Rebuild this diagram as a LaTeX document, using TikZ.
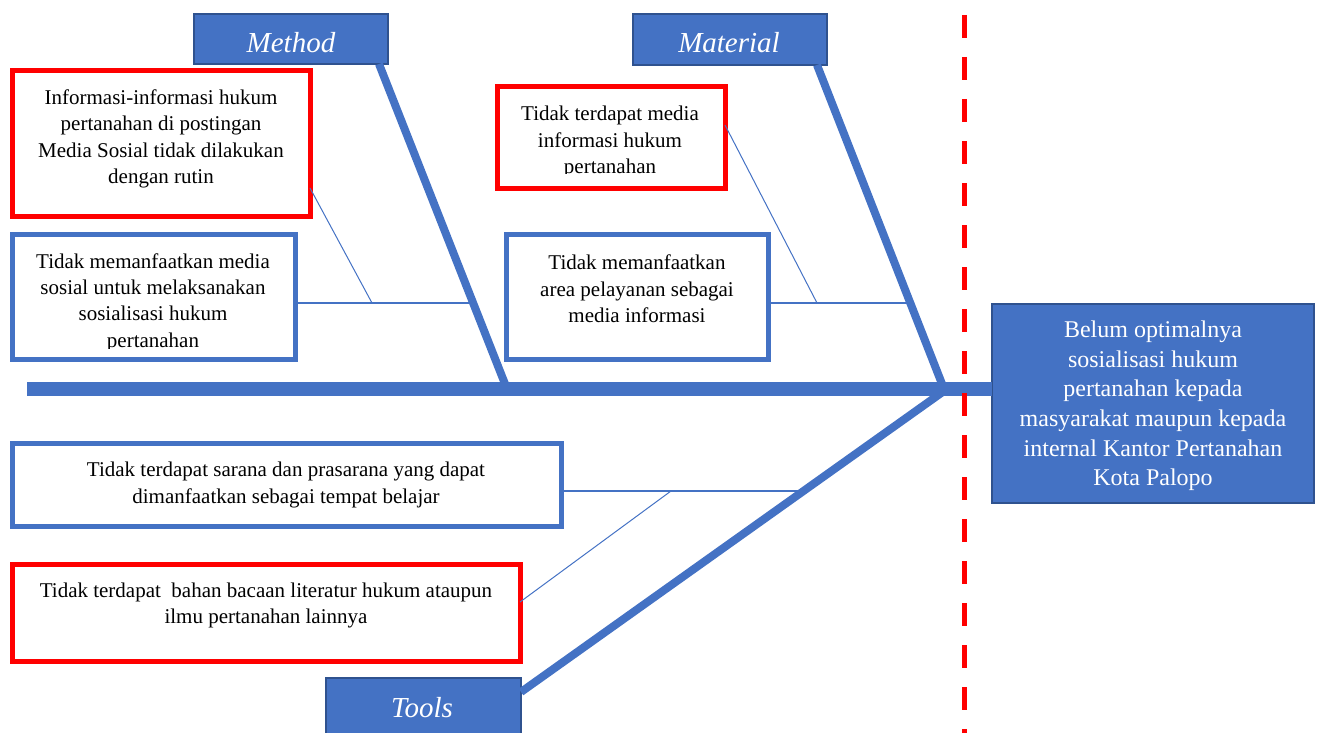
\documentclass[tikz,border=0pt]{standalone}
\usepackage{fontspec}
\setmainfont{Liberation Serif}
\definecolor{fbblue}{HTML}{4472C4}
\definecolor{fbdark}{HTML}{2F528F}
\definecolor{fbred}{HTML}{FF0000}
\tikzset{
  catbox/.style={draw=fbdark, line width=2pt, fill=fbblue, inner sep=0pt, outer sep=0pt},
  cattext/.style={text=white, font=\fontsize{29}{34}\selectfont\itshape, inner sep=0pt},
  redbox/.style={draw=fbred, line width=5pt, inner sep=0pt, outer sep=0pt},
  bluebox/.style={draw=fbblue, line width=5pt, inner sep=0pt, outer sep=0pt},
  txt/.style={align=center, font=\fontsize{21}{26.3}\selectfont, inner sep=0pt},
  efftext/.style={align=center, text=white, font=\fontsize{24}{29.6}\selectfont, inner sep=0pt},
  bone/.style={fbblue, line width=8pt},
  spine/.style={fbblue, line width=14pt},
  twig/.style={fbblue, line width=1.5pt},
  thintwig/.style={fbblue, line width=1pt},
  divider/.style={fbred, line width=5pt, dash pattern=on 23pt off 19pt}
}
\begin{document}
\begin{tikzpicture}[x=1pt,y=-1pt]
\useasboundingbox (0,0) rectangle (1319,733);

% junction coordinates
\coordinate (jm) at (473,303);
\coordinate (jm2) at (372,303);
\coordinate (ja) at (910,303);
\coordinate (ja2) at (817,303);
\coordinate (jt) at (802,491);
\coordinate (jt2) at (671,491);
\coordinate (mhead) at (507,389);
\coordinate (ahead) at (944,389);
\coordinate (thead) at (944,391);
\coordinate (tail) at (27,389);
\coordinate (dtop) at (964,15);
\coordinate (dbot) at (964,740);

% category boxes
\node[catbox, minimum width=194pt, minimum height=50pt] (mL) at (291,39) {};
\node[cattext, anchor=base] (mLt) at (291,53) {Method};
\node[catbox, minimum width=194pt, minimum height=51pt] (aL) at (730,39.5) {};
\node[cattext, anchor=base] (aLt) at (729,53) {Material};
\node[catbox, minimum width=195pt, minimum height=67pt] (tL) at (423.5,711.5) {};
\node[cattext, anchor=base] (tLt) at (422,717) {Tools};

% effect box
\node[catbox, minimum width=322pt, minimum height=199pt] (eff) at (1153,403.5) {};
\node[efftext] (efft) at (1153,406) {Belum optimalnya\\sosialisasi hukum\\pertanahan kepada\\masyarakat maupun kepada\\internal Kantor Pertanahan\\Kota Palopo};

% cause boxes
\node[redbox, minimum width=298pt, minimum height=145pt] (mR) at (161,143.5) {};
\node[txt] (mRt) at (161,139) {Informasi-informasi hukum\\pertanahan di postingan\\Media Sosial tidak dilakukan\\dengan rutin};

\node[bluebox, minimum width=283pt, minimum height=125pt] (mB) at (153.5,296.5) {};
\begin{scope}
\clip (0,0) rectangle (1319,348);
\node[txt] (mBt) at (153,302.5) {Tidak memanfaatkan media\\sosial untuk melaksanakan\\sosialisasi hukum\\pertanahan};
\end{scope}

\node[redbox, minimum width=228pt, minimum height=101pt] (aR) at (611,137.5) {};
\begin{scope}
\clip (0,0) rectangle (1319,173.5);
\node[txt] (aRt) at (610,142) {Tidak terdapat media\\informasi hukum\\pertanahan};
\end{scope}

\node[bluebox, minimum width=262pt, minimum height=125pt] (aB) at (637,296.5) {};
\node[txt] (aBt) at (637,289) {Tidak memanfaatkan\\area pelayanan sebagai\\media informasi};

\node[bluebox, minimum width=549pt, minimum height=83pt] (tB) at (286.5,484.5) {};
\node[txt] (tBt) at (286,485) {Tidak terdapat sarana dan prasarana yang dapat\\dimanfaatkan sebagai tempat belajar};

\node[redbox, minimum width=508pt, minimum height=97pt] (tR) at (266,612.5) {};
\node[txt] (tRt) at (266,605.5) {Tidak terdapat\ \ bahan bacaan literatur hukum ataupun\\ilmu pertanahan lainnya};

% bones
\draw[bone] ([xshift=-9pt]mL.south east) -- (mhead);
\draw[bone] ([xshift=-10pt]aL.south east) -- (ahead);
\draw[bone] ([yshift=-14pt]tL.north east) -- (thead);
\draw[spine] (tail) -- (tail -| eff.west);

% twigs
\draw[twig] ([yshift=-6.5pt]mB.east) -- (jm);
\draw[thintwig] ([yshift=-44.5pt]mR.east) -- (jm2);
\draw[twig] ([yshift=-6.5pt]aB.east) -- (ja);
\draw[thintwig] ([yshift=12.5pt]aR.east) -- (ja2);
\draw[twig] ([yshift=-6.5pt]tB.east) -- (jt);
\draw[thintwig] ([yshift=10.5pt]tR.east) -- (jt2);

% divider
\draw[divider] (dtop) -- (dbot);
\end{tikzpicture}
\end{document}
